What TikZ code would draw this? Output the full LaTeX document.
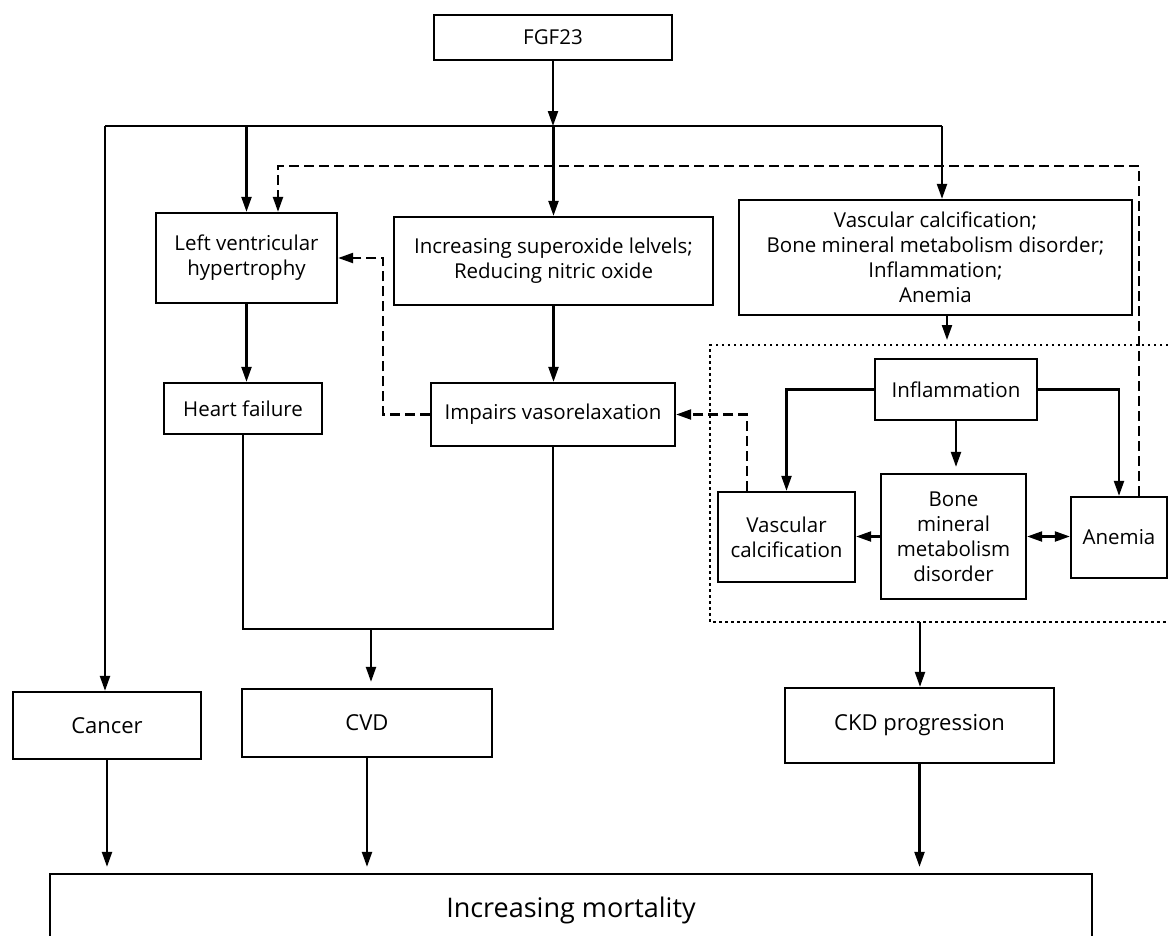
\documentclass[tikz,border=0pt]{standalone}
\usepackage{fontspec}
\setmainfont{Open Sans}
\usetikzlibrary{arrows.meta,positioning}
\tikzset{
  box/.style={draw, line width=2.3pt, align=center, inner sep=2pt, font=\fontsize{20.5}{25}\selectfont},
  bigbox/.style={box, font=\fontsize{22}{26}\selectfont},
  link/.style={line width=2.2pt},
  arr/.style={link, -{Triangle[length=15pt,width=10pt]}},
  dasharr/.style={arr, dash pattern=on 10pt off 5pt},
  dotline/.style={line width=2.3pt, dash pattern=on 2.5pt off 3.5pt},
  gap/.style={shorten >=6pt},
}
\begin{document}
\begin{tikzpicture}[x=1pt,y=-1pt]
  \useasboundingbox (0,0) rectangle (1168,935);
  % boxes
  \node[box, minimum width=238pt, minimum height=45pt] (fgf) at (553,37.5) {FGF23};
  \node[box, minimum width=181pt, minimum height=90pt] (lvh) at (246.5,258) {Left ventricular\\hypertrophy};
  \node[box, minimum width=319pt, minimum height=88pt] (sox) at (553.5,261) {Increasing superoxide lelvels;\\Reducing nitric oxide};
  \node[box, minimum width=393pt, minimum height=115pt] (vasc) at (935.5,257.5) {Vascular calcification;\\Bone mineral metabolism disorder;\\Inflammation;\\Anemia};
  \node[box, minimum width=158pt, minimum height=51pt] (hf) at (243,408.5) {Heart failure};
  \node[box, minimum width=244pt, minimum height=63pt] (imp) at (553,414.5) {Impairs vasorelaxation};
  \node[box, minimum width=162pt, minimum height=61pt] (infl) at (956,389.5) {Inflammation};
  \node[box, minimum width=137pt, minimum height=90pt] (vc) at (786.5,537) {Vascular\\calcification};
  \node[box, minimum width=145pt, minimum height=125pt] (bmmd) at (953.5,536.5) {Bone\\mineral\\metabolism\\disorder};
  \node[box, minimum width=96pt, minimum height=81pt] (anem) at (1119,537.5) {Anemia};
  \node[bigbox, minimum width=188pt, minimum height=67pt] (cancer) at (107,725.5) {Cancer};
  \node[bigbox, minimum width=250pt, minimum height=68pt] (cvd) at (367,723) {CVD};
  \node[bigbox, minimum width=269pt, minimum height=75pt] (ckd) at (919.5,725.5) {CKD progression};
  \node[box, font=\fontsize{27}{32}\selectfont, minimum width=1042pt, minimum height=72pt] (mort) at (571,910) {Increasing mortality};
  % points on the lines
  \coordinate (bus) at (553,126);
  \coordinate (busL) at (105,126);
  \coordinate (busR) at (942,126);
  \coordinate (dtop) at (1139,166);
  \coordinate (dleft) at (278,166);
  \coordinate (dlv) at (383,258);
  \coordinate (dvc) at (747,414.5);
  \coordinate (dotT) at (947,345);
  \coordinate (dotB) at (920,622);
  \coordinate (join) at (371,629);
  % dotted frame
  \draw[dotline] (1168,345) -- (710,345) -- (710,622) -- (1168,622);
  % solid connectors
  \draw[arr] (fgf.south) -- (bus);
  \draw[link] (busL) -- (busR);
  \draw[arr] (busL) -- (busL |- cancer.north);
  \draw[arr] (lvh.north |- bus) -- (lvh.north);
  \draw[arr] (sox.north |- bus) -- (sox.north);
  \draw[arr] (busR) -- (busR |- vasc.north);
  \draw[arr] (lvh.south) -- (lvh.south |- hf.north);
  \draw[arr] (sox.south) -- (sox.south |- imp.north);
  \draw[arr, shorten >=5pt] (dotT |- vasc.south) -- (dotT);
  \draw[arr] (infl.west) -| (vc.north);
  \draw[arr] (infl.east) -| (anem.north);
  \draw[arr, gap] (infl.south) -- (infl.south |- bmmd.north);
  \draw[arr] (bmmd.west) -- (bmmd.west -| vc.east);
  \draw[link, {Triangle[length=15pt,width=10pt]}-{Triangle[length=15pt,width=10pt]}] (bmmd.east) -- (bmmd.east -| anem.west);
  \draw[link] (hf.south) |- (join) -| (imp.south);
  \draw[arr, gap] (join) -- (join |- cvd.north);
  \draw[arr] (dotB) -- (dotB |- ckd.north);
  \draw[arr, gap] (cancer.south) -- (cancer.south |- mort.north);
  \draw[arr, gap] (cvd.south) -- (cvd.south |- mort.north);
  \draw[arr, gap] (ckd.south) -- (ckd.south |- mort.north);
  % dashed feedback
  \draw[dasharr] (dtop |- anem.north) -- (dtop) -- (dleft) -- (dleft |- lvh.north);
  \draw[dasharr] (imp.west) -| (dlv) -- (lvh.east);
  \draw[dasharr] (dvc |- vc.north) -- (dvc) -- (imp.east);
\end{tikzpicture}
\end{document}
